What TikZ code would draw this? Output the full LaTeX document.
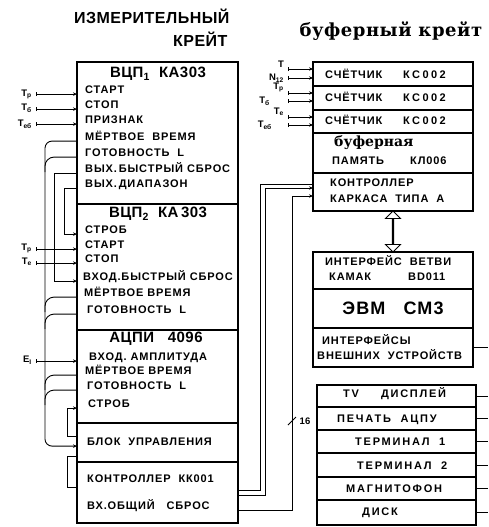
\documentclass[tikz,border=0pt]{standalone}
\usepackage{fontspec}
\setmainfont{Liberation Sans}
\newfontfamily\serifold{DejaVu Serif}
\usepackage{tikz}
\usetikzlibrary{positioning, calc, arrows.meta, shapes.arrows}

\newcommand{\rowfont}{\bfseries\fontsize{11}{12}\selectfont\addfontfeature{LetterSpace=8}}
\newcommand{\widefont}{\bfseries\fontsize{11}{12}\selectfont\addfontfeature{LetterSpace=22}}
\newcommand{\devfont}{\bfseries\fontsize{11}{12}\selectfont\addfontfeature{LetterSpace=16}}
\newcommand{\ttlfont}{\bfseries\fontsize{15}{16}\selectfont\addfontfeature{LetterSpace=3}}
\newcommand{\headfont}{\bfseries\fontsize{16}{18}\selectfont\addfontfeature{LetterSpace=3}}
\newcommand{\oldfont}{\serifold\bfseries\fontsize{18}{20}\selectfont\addfontfeature{LetterSpace=3}}
\newcommand{\memfont}{\serifold\bfseries\fontsize{14}{16}\selectfont}
\newcommand{\evmfont}{\bfseries\fontsize{18}{20}\selectfont\addfontfeature{LetterSpace=6}}
\newcommand{\subfont}{\bfseries\fontsize{9.5}{10}\selectfont}

\begin{document}
\begin{tikzpicture}[x=1pt, y=-1pt, every node/.style={font=\rowfont}]
  \tikzstyle{crate}=[rectangle, draw, line width=1.2pt, minimum width=161pt, anchor=north west, inner sep=0pt, outer sep=0pt]
  \tikzstyle{rbox}=[crate, minimum width=160pt]
  \tikzstyle{dev}=[crate, minimum width=159pt]
  \tikzstyle{row}=[anchor=west, inner sep=0pt, text height=7.8pt, text depth=0pt]
  \tikzstyle{ttl}=[inner sep=0pt, font=\ttlfont]
  \tikzstyle{sub}=[anchor=east, inner xsep=4pt, inner ysep=1pt, font=\subfont]
  \tikzstyle{wire}=[line width=0.9pt]
  \tikzstyle{sig}=[wire, -{Stealth[length=4pt, width=3.4pt]}]
  \tikzstyle{insig}=[wire, {Bar[width=4pt]}-{Stealth[length=4pt, width=3.4pt]}]
  \tikzstyle{merge}=[wire, rounded corners=9pt]

  \useasboundingbox (0,0) rectangle (488,527);

  % headings
  \node[anchor=east, font=\headfont] (hmeas) at (233,16) {ИЗМЕРИТЕЛЬНЫЙ};
  \node[anchor=east, font=\headfont] (hcrate) at (231,39) {КРЕЙТ};
  \node[anchor=west, font=\oldfont] (hbuf) at (296,31) {буферный крейт};

  % measuring crate
  \node[crate, minimum height=142pt] (vcp1) at (77,62) {};
  \node[crate, minimum height=126pt, below=0pt of vcp1] (vcp2) {};
  \node[crate, minimum height=93pt, below=0pt of vcp2] (adc) {};
  \node[crate, minimum height=39pt, below=0pt of adc] (blk) {};
  \node[crate, minimum height=61pt, below=0pt of blk] (ctl) {};

  \node[ttl] (t1) at (158,74) {ВЦП\textsubscript{1}\ \ КА303};
  \node[row] (start1) at (85,90) {СТАРТ};
  \node[row] (stop1) at (85,105) {СТОП};
  \node[row] (flag1) at (85,120) {ПРИЗНАК};
  \node[row] (dead1) at (85,137) {МЁРТВОЕ\ \ ВРЕМЯ};
  \node[row] (rdy1) at (85,153) {ГОТОВНОСТЬ\ \ L};
  \node[row] (frout1) at (85,169) {ВЫХ.\,БЫСТРЫЙ СБРОС};
  \node[row] (rng1) at (85,184) {ВЫХ.\,ДИАПАЗОН};

  \node[ttl] (t2) at (158,214) {ВЦП\textsubscript{2}\ \ КА\,303};
  \node[row] (strob2) at (85,230) {СТРОБ};
  \node[row] (start2) at (85,245) {СТАРТ};
  \node[row] (stop2) at (85,259) {СТОП};
  \node[row] (frin2) at (83,277) {ВХОД.БЫСТРЫЙ СБРОС};
  \node[row] (dead2) at (84,293) {МЁРТВОЕ\ ВРЕМЯ};
  \node[row] (rdy2) at (87,310) {ГОТОВНОСТЬ\ \ L};

  \node[ttl] (t3) at (156,339) {АЦПИ\ \ \ 4096};
  \node[row] (ampl3) at (89,357) {ВХОД.\ АМПЛИТУДА};
  \node[row] (dead3) at (85,371) {МЁРТВОЕ ВРЕМЯ};
  \node[row] (rdy3) at (87,386) {ГОТОВНОСТЬ\ \ L};
  \node[row] (strob3) at (88,404) {СТРОБ};

  \node[row] (blkt) at (87,442) {БЛОК\ \ УПРАВЛЕНИЯ};
  \node[row] (ctlt) at (87,479) {КОНТРОЛЛЕР\ \ КК001};
  \node[row] (rst) at (87,506) {ВХ.ОБЩИЙ\ \ \ СБРОС};

  % inputs of the measuring crate
  \node[sub] (tp1) at (36,94) {T\textsubscript{р}};
  \node[sub] (tb1) at (36,108) {T\textsubscript{б}};
  \node[sub] (teb1) at (36,124) {T\textsubscript{еб}};
  \node[sub] (tp2) at (36,248) {T\textsubscript{р}};
  \node[sub] (te2) at (36,262) {T\textsubscript{е}};
  \node[sub] (ei3) at (36,360) {E\textsubscript{I}};
  \foreach \l/\r in {tp1/start1, tb1/stop1, teb1/flag1, tp2/start2, te2/stop2, ei3/ampl3}
    \draw[insig] (\l.east |- \r.south) -- (vcp1.west |- \r.south);

  % wiring inside the measuring crate
  \coordinate (bus) at (45,0);
  \coordinate (jmpA) at (54,0);
  \coordinate (jmpB) at (64,0);
  \coordinate (jmpC) at (67,0);
  \draw[sig, rounded corners=7pt] (vcp1.west |- dead1.south) -| (bus |- blkt.south) -- (blk.west |- blkt.south);
  \foreach \r in {rdy1, dead2, rdy2, dead3, rdy3}
    \draw[merge] (vcp1.west |- \r.south) -- (bus |- \r.south) -- ++(0,15);
  \draw[sig] (vcp1.west |- frout1.south) -| (jmpA |- frin2.south) -- (vcp2.west |- frin2.south);
  \draw[sig] (vcp1.west |- rng1.south) -| (jmpB |- strob2.south) -- (vcp2.west |- strob2.south);
  \draw[sig] (blk.west |- 0,436) -| (jmpC |- strob3.south) -- (adc.west |- strob3.south);
  \draw[wire] (blk.west |- 0,456) -| (jmpC |- 0,487) -- (ctl.west |- 0,487);

  % buffer crate
  \node[rbox, minimum height=24pt] (cnt1) at (313,62) {};
  \node[rbox, minimum height=24pt, below=0pt of cnt1] (cnt2) {};
  \node[rbox, minimum height=23pt, below=0pt of cnt2] (cnt3) {};
  \node[rbox, minimum height=40pt, below=0pt of cnt3] (mem) {};
  \node[rbox, minimum height=38pt, below=0pt of mem] (crc) {};
  \foreach \c/\y in {cnt1/75, cnt2/98, cnt3/121}{
    \node[row] (\c a) at (325,\y) {СЧЁТЧИК};
    \node[row, font=\widefont] (\c b) at (403,\y) {КС002};
  }
  \node[anchor=west, inner sep=0pt, font=\memfont] (memA) at (334,143) {буферная};
  \node[row] (memB) at (332,161) {ПАМЯТЬ};
  \node[row] (memC) at (410,161) {КЛ006};
  \node[row] (crcA) at (330,183) {КОНТРОЛЛЕР};
  \node[row] (crcB) at (330,199) {КАРКАСА\ \ ТИПА\ \ А};

  \node[rbox, minimum height=37pt] (ifc) at (313,252) {};
  \node[rbox, minimum height=39pt, below=0pt of ifc, font=\evmfont] (evm) {ЭВМ\ \ \ СМ3};
  \node[rbox, minimum height=39pt, below=0pt of evm] (ifx) {};
  \node[row] (ifcA) at (325,262) {ИНТЕРФЕЙС\ \ ВЕТВИ};
  \node[row] (ifcB) at (329,277) {КАМАК};
  \node[row] (ifcC) at (408,277) {ВD011};
  \node[row] (ifxA) at (322,341) {ИНТЕРФЕЙСЫ};
  \node[row] (ifxB) at (317,356) {ВНЕШНИХ\ \ УСТРОЙСТВ};

  \node[double arrow, draw, line width=0.9pt, rotate=90, minimum height=41pt, minimum width=15pt,
        double arrow head extend=4.5pt, inner sep=0pt] (link) at ($(crc.south)!0.5!(ifc.north)$) {};

  % counter inputs
  \coordinate (in1) at (288,69);
  \coordinate (in2) at (288,78);
  \coordinate (in3) at (288,93);
  \coordinate (in4) at (288,101);
  \coordinate (in5) at (288,117);
  \coordinate (in6) at (288,125);
  \foreach \c/\b in {in1/cnt1, in2/cnt1, in3/cnt2, in4/cnt2, in5/cnt3, in6/cnt3}
    \draw[insig] (\c) -- (\b.west |- \c);
  \node[sub, anchor=south east] (nT) at (in1) {T};
  \node[sub] (nN) at (in2) {N\textsubscript{12}};
  \node[sub, anchor=south east] (nTp) at (in3) {T\textsubscript{р}};
  \node[sub] (nTb) at ($(in4)+(-14,0)$) {T\textsubscript{б}};
  \node[sub, anchor=south east] (nTe) at (in5) {T\textsubscript{е}};
  \node[sub] (nTeb) at ($(in6)+(-12,0)$) {T\textsubscript{еб}};

  % peripherals
  \node[dev, minimum height=22pt] (tv) at (317,385) {};
  \node[dev, minimum height=23pt, below=0pt of tv] (prn) {};
  \node[dev, minimum height=23pt, below=0pt of prn] (trm1) {};
  \node[dev, minimum height=24pt, below=0pt of trm1] (trm2) {};
  \node[dev, minimum height=23pt, below=0pt of trm2] (tape) {};
  \node[dev, minimum height=25pt, below=0pt of tape] (disk) {};
  \node[row, font=\devfont] (tvt) at (343,394) {TV\hspace{22pt}ДИСПЛЕЙ};
  \node[row, font=\devfont] (prnt) at (337,419) {ПЕЧАТЬ\ \ АЦПУ};
  \node[row, font=\devfont] (trm1t) at (355,442) {ТЕРМИНАЛ\ \ 1};
  \node[row, font=\devfont] (trm2t) at (357,466) {ТЕРМИНАЛ\ \ 2};
  \node[row, font=\devfont] (tapet) at (346,489) {МАГНИТОФОН};
  \node[row, font=\devfont] (diskt) at (362,512) {ДИСК};

  \coordinate (edge) at (488,0);
  \foreach \d in {ifx, tv, prn, trm1, trm2, tape, disk}
    \draw[wire] (\d.east) -- (edge |- \d.east);

  % crate link
  \draw[wire] (ctl.east |- 0,490) -| (260,184) -- (crc.west |- 0,184);
  \draw[sig] (ctl.east |- 0,495) -| (265,188) -- (crc.west |- 0,188);
  \draw[sig] (ctl.east |- rst.south) -| (292,196) -- (crc.west |- 0,196);
  \draw[wire] (288,425) -- (296,417);
  \node[font=\subfont] (n16) at (305,421) {16};
\end{tikzpicture}
\end{document}
